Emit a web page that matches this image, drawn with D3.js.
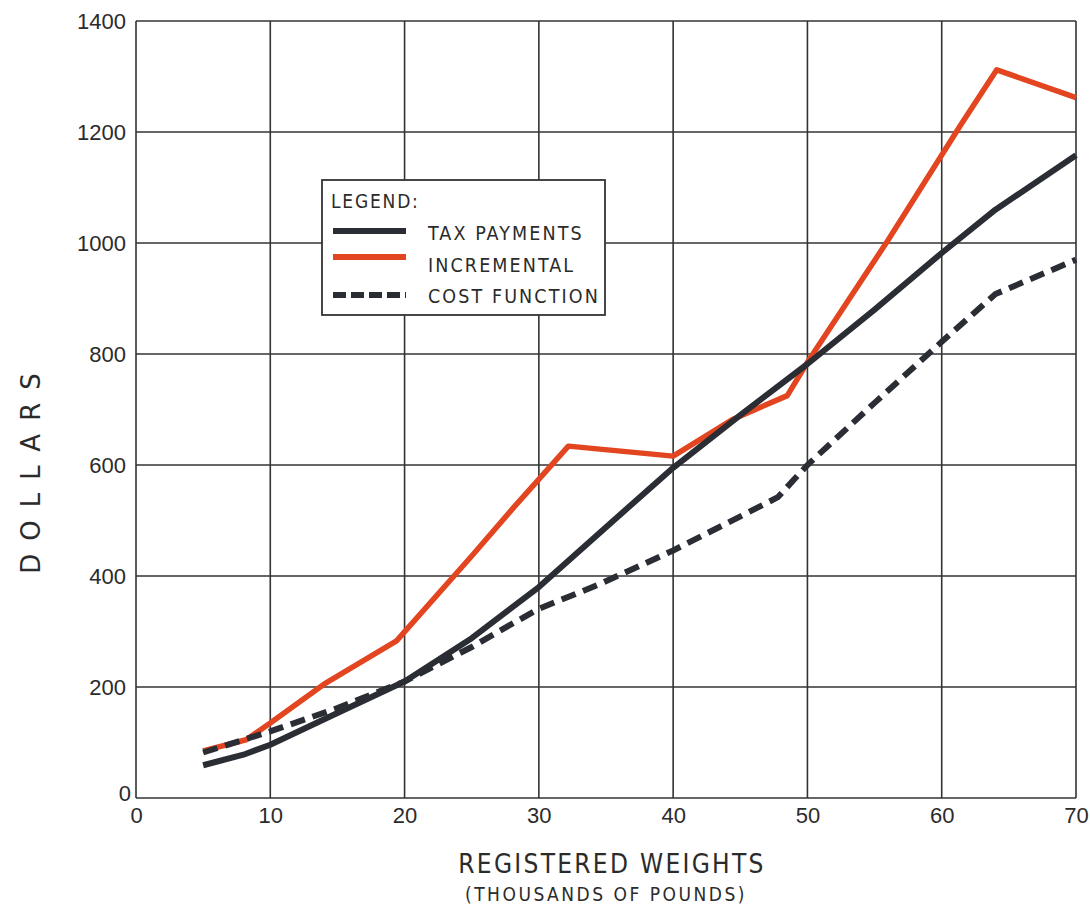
<!DOCTYPE html>
<html><head><meta charset="utf-8">
<script src="https://cdn.jsdelivr.net/npm/d3@7"></script>
<style>body{margin:0;background:#fff;} svg{display:block;}</style>
</head><body>
<svg id="c" width="1090" height="908"></svg>
<script>
const xTicks = [0,10,20,30,40,50,60,70];
const yTicks = [0,200,400,600,800,1000,1200,1400];
const taxX = [5,8,10,15,20,25,30,35,40,45,50,55,60,64,70];
const taxY = [59,78,96,153,210,288,380,488,595,690,782,880,982,1060,1158];
const incX = [5,8.2,10,14,19.4,25,28,32.2,40,44.5,48.5,50,56,61.4,64.1,70];
const incY = [85,105,135,205,283,436,520,634,616,683,725,785,1005,1212,1312,1262];
const costX = [5,10,15,20,25,27,30,34.5,40,44,47.8,50,55,60,64,70];
const costY = [82,120,162,210,272,300,341,385,446,495,542,600,712,822,908,970];
const legendLabels = ["TAX PAYMENTS","INCREMENTAL","COST FUNCTION"];

const svg = d3.select("#c");
const x = d3.scaleLinear().domain([0,70]).range([136,1076]);
const y = d3.scaleLinear().domain([0,1400]).range([798,21]);
const gridCol = "#333";
const ink = "#2a2d33";
const orange = "#e2451f";
const textCol = "#2b2b2b";
const tickFont = "'Liberation Sans', Arial, sans-serif";
const letterFont = "'DejaVu Sans Condensed', 'DejaVu Sans', sans-serif";

// grid
const g = svg.append("g");
g.selectAll(".vx").data(xTicks).join("line")
  .attr("x1", d=>x(d)).attr("x2", d=>x(d)).attr("y1", y(0)).attr("y2", y(1400))
  .attr("stroke", gridCol).attr("stroke-width", 1.6);
g.selectAll(".hy").data(yTicks).join("line")
  .attr("y1", d=>y(d)).attr("y2", d=>y(d)).attr("x1", x(0)).attr("x2", x(70))
  .attr("stroke", gridCol).attr("stroke-width", 1.6);

// tick labels
const xAxis = d3.axisBottom(x).tickValues(xTicks).tickFormat(d3.format("d")).tickSize(0).tickPadding(9);
const xa = svg.append("g").attr("transform", `translate(0,${y(0)})`).call(xAxis);
xa.select(".domain").remove();
xa.selectAll("text").attr("font-family", tickFont).attr("font-size", 22).attr("fill", textCol);
const yAxis = d3.axisLeft(y).tickValues(yTicks).tickFormat(d3.format("d")).tickSize(0).tickPadding(10);
const ya = svg.append("g").attr("transform", `translate(${x(0)},0)`).call(yAxis);
ya.select(".domain").remove();
ya.selectAll("text").attr("font-family", tickFont).attr("font-size", 22).attr("fill", textCol);
ya.selectAll(".tick").filter(d=>d===0).select("text").attr("dy", "0.1em").attr("x", -5);

// lines
const line = d3.line().x(d=>x(d[0])).y(d=>y(d[1]));
const inc = incX.map((v,i)=>[v,incY[i]]);
const tax = taxX.map((v,i)=>[v,taxY[i]]);
const cost = costX.map((v,i)=>[v,costY[i]]);
svg.append("path").datum(inc).attr("d", line).attr("fill","none").attr("stroke",orange)
  .attr("stroke-width",5.5).attr("stroke-linejoin","round");
svg.append("path").datum(cost).attr("d", line).attr("fill","none").attr("stroke",ink)
  .attr("stroke-width",6).attr("stroke-dasharray","15,8");
svg.append("path").datum(tax).attr("d", line).attr("fill","none").attr("stroke",ink)
  .attr("stroke-width",6).attr("stroke-linejoin","round");

// legend
const lg = svg.append("g");
lg.append("rect").attr("x",322).attr("y",180).attr("width",283).attr("height",135)
  .attr("fill","#fff").attr("stroke",gridCol).attr("stroke-width",1.8);
lg.append("text").attr("x",331).attr("y",208).text("LEGEND:")
  .attr("font-family",letterFont).attr("font-size",19).attr("letter-spacing",1.8).attr("fill",textCol);
const ly = [231,257,295];
const styles = [{c:ink,d:null},{c:orange,d:null},{c:ink,d:"13,5"}];
legendLabels.forEach((t,i)=>{
  lg.append("line").attr("x1",333).attr("x2",406).attr("y1",ly[i]).attr("y2",ly[i])
    .attr("stroke",styles[i].c).attr("stroke-width",6).attr("stroke-dasharray",styles[i].d);
  lg.append("text").attr("x",428).attr("y",[240,272,303][i]).text(t)
    .attr("font-family",letterFont).attr("font-size",19.5).attr("letter-spacing",2.1).attr("fill",textCol);
});

// axis titles
svg.append("text").attr("x",612).attr("y",873).attr("text-anchor","middle")
  .text("REGISTERED WEIGHTS").attr("font-family",letterFont).attr("font-size",26)
  .attr("letter-spacing",2.3).attr("fill",textCol);
svg.append("text").attr("x",606).attr("y",901).attr("text-anchor","middle")
  .text("(THOUSANDS OF POUNDS)").attr("font-family",letterFont).attr("font-size",19)
  .attr("letter-spacing",2.5).attr("fill",textCol);
svg.append("text").attr("transform","translate(40,467) rotate(-90)").attr("text-anchor","middle")
  .text("DOLLARS").attr("font-family","'DejaVu Sans', sans-serif").attr("font-size",26)
  .attr("letter-spacing",13).attr("fill",textCol);
</script>
</body></html>
